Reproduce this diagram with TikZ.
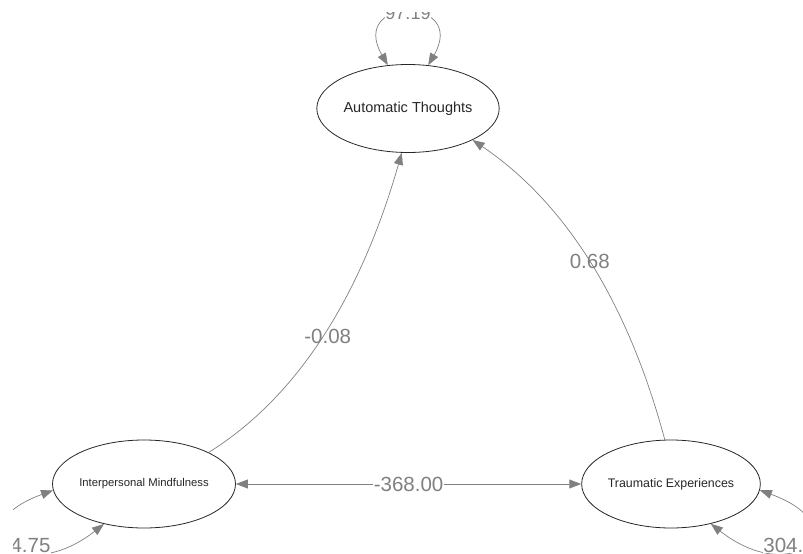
\documentclass[tikz,border=0pt]{standalone}
\usepackage{fontspec}
\setmainfont{Liberation Sans}
\usetikzlibrary{arrows.meta, shapes.geometric}
\definecolor{edgegray}{RGB}{128,128,128}
\tikzset{
  latent/.style={
    ellipse,
    draw=black!85,
    line width=0.8pt,
    minimum width=176pt,
    minimum height=88pt,
    inner sep=0pt,
    text=black!85,
  },
  % edges: one-headed paths, two-headed (co)variances
  regarr/.style={-{Triangle[length=12pt, width=9pt]}, line width=0.7pt, draw=edgegray},
  covarr/.style={{Triangle[length=12pt, width=9pt]}-{Triangle[length=12pt, width=9pt]}, line width=0.7pt, draw=edgegray},
  elab/.style={text=edgegray, font=\fontsize{20.5}{22}\selectfont, inner sep=0pt},
  elabbg/.style={elab, fill=white, inner sep=0.5pt},
}

\begin{document}
\begin{tikzpicture}[x=1pt, y=1pt]
  \useasboundingbox (0,0) rectangle (803,-554);
  \clip (13,-12) rectangle (803,-554);

  \node[latent, font=\fontsize{14.5}{16}\selectfont] (at) at (408,-108.5) {Automatic Thoughts};
  \node[latent, font=\fontsize{11.3}{13}\selectfont] (im) at (144,-484) {Interpersonal Mindfulness};
  \node[latent, font=\fontsize{12.4}{14}\selectfont] (tx) at (671,-484) {Traumatic Experiences};

  \draw[regarr] (im.26) to[out=32, in=254, out distance=104pt, in distance=151pt]
    node[elab, pos=0.5, xshift=5pt] {-0.08} (at.262);
  \draw[regarr] (tx.98) to[out=105, in=326, out distance=142pt, in distance=112pt]
    node[elab, pos=0.5] {0.68} (at.334);
  \draw[covarr] (im.east) -- node[elabbg] {-368.00} (tx.west);

  % residual variances
  \draw[covarr] (at.115) to[out=120, in=60, distance=80pt]
    node[elabbg, pos=0.5, font=\fontsize{18}{20}\selectfont] {97.19} (at.65);
  \draw[covarr] (im.184) to[out=200, in=218, distance=105pt]
    node[elabbg, pos=0.5, xshift=20pt, yshift=-1pt] {4.75} (im.225);
  \draw[covarr] (tx.356) to[out=-20, in=-38, distance=105pt]
    node[elabbg, pos=0.5, xshift=-20pt, yshift=-1pt] {304.} (tx.315);
\end{tikzpicture}
\end{document}
